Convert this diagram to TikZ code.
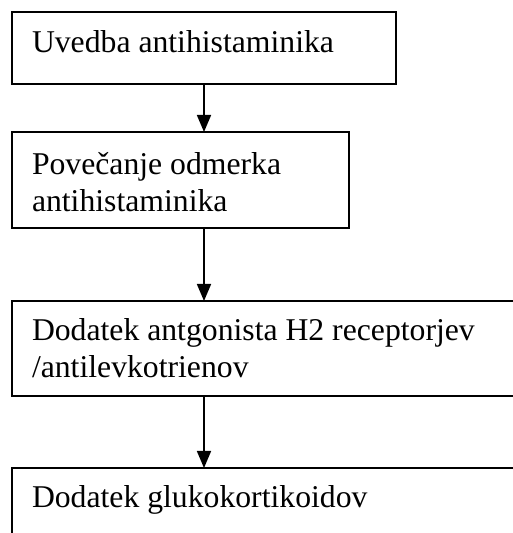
\documentclass[tikz,border=0pt]{standalone}
\usepackage{fontspec}
\setmainfont{Liberation Serif}
\usetikzlibrary{arrows.meta}
\tikzset{
  box/.style={draw=black, line width=1.6pt, rectangle, inner sep=0pt, outer sep=0pt, anchor=north west},
  txt/.style={inner sep=0pt, outer sep=0pt, anchor=base west, font=\fontsize{31.7}{36.5}\selectfont},
  arr/.style={line width=1.6pt, -{Triangle[width=14pt,length=17pt]}}
}
\begin{document}
\begin{tikzpicture}[x=1pt,y=1pt]
\useasboundingbox (0,0) rectangle (513,533);
\clip (0,0) rectangle (513,533);
\node[box, minimum width=384pt, minimum height=72pt] (b1) at (12,521) {};
\node[box, minimum width=337pt, minimum height=96pt] (b2) at (12,401) {};
\node[box, minimum width=510pt, minimum height=95pt] (b3) at (12,232) {};
\node[box, minimum width=510pt, minimum height=80pt] (b4) at (12,65) {};
\node[txt] (t1) at (32,480) {Uvedba antihistaminika};
\node[txt] (t2) at (32,358) {\parbox[t]{400pt}{Povečanje odmerka\\antihistaminika}};
\node[txt] (t3) at (32,192) {\parbox[t]{480pt}{Dodatek antgonista H2 receptorjev\\/antilevkotrienov}};
\node[txt] (t4) at (32,25) {Dodatek glukokortikoidov};
\coordinate (ax) at (b1.south);
\draw[arr] (b1.south) -- (ax |- b2.north);
\draw[arr] (ax |- b2.south) -- (ax |- b3.north);
\draw[arr] (ax |- b3.south) -- (ax |- b4.north);
\end{tikzpicture}
\end{document}
